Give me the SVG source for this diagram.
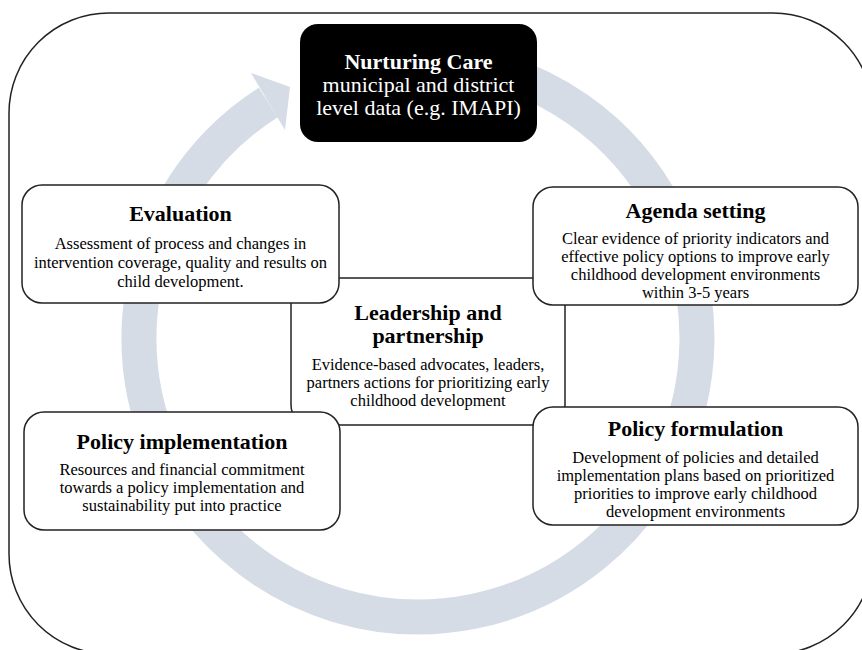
<svg xmlns="http://www.w3.org/2000/svg" width="862" height="650" viewBox="0 0 862 650">
<style>
.box{fill:#fff;stroke:#222;stroke-width:1.5}
.t{font-family:"Liberation Serif","Times New Roman",serif;font-size:22px;font-weight:bold;fill:#000;text-anchor:middle}
.b{font-family:"Liberation Serif","Times New Roman",serif;font-size:16.5px;fill:#000;text-anchor:middle}
.w{font-family:"Liberation Serif","Times New Roman",serif;font-size:22px;fill:#fff;text-anchor:middle}
</style>
<rect width="862" height="650" fill="#fff"/>
<rect x="9" y="13" width="864" height="641" rx="100" fill="none" stroke="#222" stroke-width="1.5"/>
<g id="connectors">
<path d="M 466.4 63.2 A 279 279 0 1 1 268.3 102.5" fill="none" stroke="#d5dce6" stroke-width="35"/>
<polygon points="251,73 290,87 285,130" fill="#d5dce6"/>
</g>
<g id="leadership">
<rect class="box" x="291" y="278" width="274" height="147" rx="20"/>
<text class="t" x="428" y="320">Leadership and</text>
<text class="t" x="428" y="343">partnership</text>
<text class="b" x="428" y="370">Evidence-based advocates, leaders,</text>
<text class="b" x="428" y="388">partners actions for prioritizing early</text>
<text class="b" x="428" y="406">childhood development</text>
</g>
<g id="evaluation">
<rect class="box" x="22" y="185" width="317" height="118" rx="20"/>
<text class="t" x="180.5" y="221">Evaluation</text>
<text class="b" x="180.5" y="249">Assessment of process and changes in</text>
<text class="b" x="180.5" y="268">intervention coverage, quality and results on</text>
<text class="b" x="180.5" y="287">child development.</text>
</g>
<g id="agenda">
<rect class="box" x="533" y="187" width="325" height="118" rx="20"/>
<text class="t" x="695.5" y="218">Agenda setting</text>
<text class="b" x="695.5" y="244">Clear evidence of priority indicators and</text>
<text class="b" x="695.5" y="262">effective policy options to improve early</text>
<text class="b" x="695.5" y="280">childhood development environments</text>
<text class="b" x="695.5" y="298">within 3-5 years</text>
</g>
<g id="implementation">
<rect class="box" x="24" y="412" width="316" height="118" rx="20"/>
<text class="t" x="182" y="449">Policy implementation</text>
<text class="b" x="182" y="475">Resources and financial commitment</text>
<text class="b" x="182" y="493">towards a policy implementation and</text>
<text class="b" x="182" y="511">sustainability put into practice</text>
</g>
<g id="formulation">
<rect class="box" x="533" y="407" width="325" height="118" rx="20"/>
<text class="t" x="695.5" y="436">Policy formulation</text>
<text class="b" x="695.5" y="463">Development of policies and detailed</text>
<text class="b" x="695.5" y="481">implementation plans based on prioritized</text>
<text class="b" x="695.5" y="499">priorities to improve early childhood</text>
<text class="b" x="695.5" y="517">development environments</text>
</g>
<g id="nurturing">
<rect x="300" y="24" width="237" height="118" rx="18" fill="#000"/>
<text class="w" x="418.5" y="69" font-weight="bold">Nurturing Care</text>
<text class="w" x="418.5" y="92">municipal and district</text>
<text class="w" x="418.5" y="115">level data (e.g. IMAPI)</text>
</g>
</svg>
